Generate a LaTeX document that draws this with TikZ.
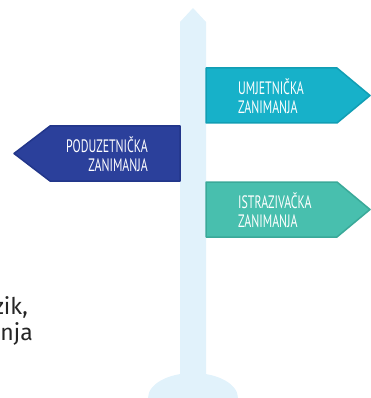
\documentclass[tikz,border=0pt]{standalone}
\usepackage{fontspec}
\setmainfont{Fira Sans}
\newfontfamily\signfont[FakeStretch=0.66]{PT Sans}
\definecolor{pole}{HTML}{E1F2FB}
\definecolor{enterblue}{HTML}{2B409B}
\definecolor{enterblueline}{HTML}{22368A}
\definecolor{artteal}{HTML}{17B1C9}
\definecolor{arttealline}{HTML}{119EB4}
\definecolor{researchgreen}{HTML}{48BFAE}
\definecolor{researchgreenline}{HTML}{3AA999}
\tikzset{
  signtext/.style={text=white,font=\signfont\fontsize{18}{20}\selectfont,inner sep=0pt},
  bodytext/.style={text=black!85,font=\fontsize{23}{27}\selectfont,inner sep=0pt}
}

\begin{document}
\begin{tikzpicture}[x=1pt,y=-1pt]
			\useasboundingbox (0,0) rectangle (371,398);
			\clip (0,0) rectangle (371,398);

			%pole and base
			\fill[pole] (180,398) -- (180,22) -- (193,8) -- (206,22) -- (206,398) -- cycle;
			\fill[pole] (193,398) ellipse[x radius=45, y radius=25];

			%signs
			\draw[fill=enterblue,draw=enterblueline,line width=1.5pt,line join=round] (180,126) -- (50,126) -- (14,153.5) -- (50,181) -- (180,181) -- cycle;
			\draw[fill=artteal,draw=arttealline,line width=1.5pt,line join=round] (206,68) -- (337,68) -- (370,95.5) -- (337,123) -- (206,123) -- cycle;
			\draw[fill=researchgreen,draw=researchgreenline,line width=1.5pt,line join=round] (206,182) -- (337,182) -- (370,209.5) -- (337,237) -- (206,237) -- cycle;

			%sign labels
			\node[signtext,anchor=base east] (P1) at (148,152) {PODUZETNIČKA};
			\node[signtext,anchor=base east] (P2) at (148,171) {ZANIMANJA};
			\node[signtext,anchor=base west] (U1) at (238,95) {UMJETNIČKA};
			\node[signtext,anchor=base west] (U2) at (238,114) {ZANIMANJA};
			\node[signtext,anchor=base west] (I1) at (238,208) {ISTRAZIVAČKA};
			\node[signtext,anchor=base west] (I2) at (238,227) {ZANIMANJA};

			%cut-off text on the left
			\node[bodytext,anchor=base east] (L1) at (28,314) {zik,};
			\node[bodytext,anchor=base east] (L2) at (33,340) {nja};

\end{tikzpicture}
\end{document}
